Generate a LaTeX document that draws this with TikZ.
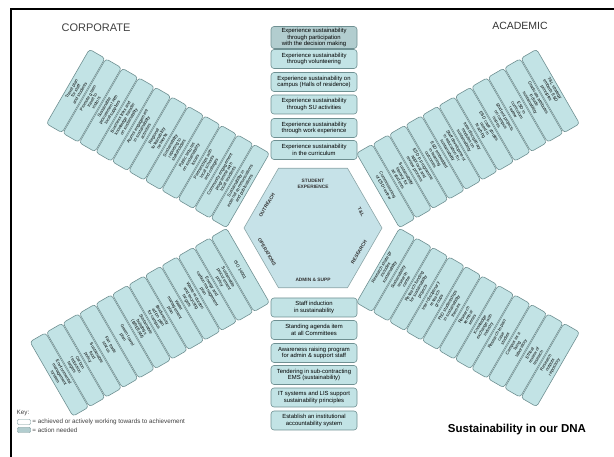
\documentclass[tikz,border=0pt]{standalone}
\usepackage{fontspec}
\setmainfont{Liberation Sans}
\usetikzlibrary{shapes.geometric, positioning}

\definecolor{boxfill}{HTML}{C2E3E5}
\definecolor{boxline}{HTML}{6F9092}
\definecolor{needfill}{HTML}{B2CDCF}
\definecolor{hexfill}{HTML}{C6E2E8}

\begin{document}
\begin{tikzpicture}[x=1pt, y=-1pt,
    item/.style={draw=boxline, fill=boxfill, rounded corners=3pt, line width=0.6pt,
        minimum width=86pt, minimum height=19pt, inner sep=1pt, align=center,
        font=\fontsize{5.9}{6.4}\selectfont},
    need/.style={item, fill=needfill},
    armbox/.style={item, minimum width=86pt, minimum height=18pt,
        font=\fontsize{4.3}{4.8}\selectfont},
    hexlabel/.style={font=\fontsize{4.8}{5.4}\selectfont\bfseries, align=center, text=black!80},
    keytext/.style={font=\fontsize{6.3}{7}\selectfont, text=black!75, inner sep=0.5pt}]

    \useasboundingbox (0,0) rectangle (614,457);

    % Frame
    \draw[line width=2pt] (11,9) rectangle (640,480);

    % Headings
    \node[font=\fontsize{11}{12}\selectfont, text=black!75] (corp) at (96,28) {CORPORATE};
    \node[font=\fontsize{10.5}{12}\selectfont, text=black!80] (acad) at (520,26) {ACADEMIC};
    \node[font=\fontsize{11.5}{13}\selectfont\bfseries] (title) at (517,430) {Sustainability in our DNA};

    % Centre hexagon
    \node[regular polygon, regular polygon sides=6, minimum size=138pt, inner sep=0pt,
        draw=boxline!80, line width=0.6pt, fill=hexfill] (hex) at (313,228) {};
    \node[hexlabel] (se) at (313,184) {STUDENT\\EXPERIENCE};
    \node[hexlabel] (as) at (313,280) {ADMIN \& SUPP};
    \node[hexlabel, rotate=60] (ou) at (267,205) {OUTREACH};
    \node[hexlabel, rotate=-60] (op) at (267,252) {OPERATIONS};
    \node[hexlabel, rotate=-60] (tl) at (361,212) {T\&L};
    \node[hexlabel, rotate=60] (re) at (359,252) {RESEARCH};

    % Student experience (top)
    \node[need, minimum height=22pt] (s1) at (314,37.5) {Experience sustainability\\through participation\\with the decision making};
    \node[item] (s2) at (314,59) {Experience sustainability\\through volunteering};
    \node[item] (s3) at (314,82) {Experience sustainability on\\campus (Halls of residence)};
    \node[item] (s4) at (314,104.5) {Experience sustainability\\through SU activities};
    \node[item] (s5) at (314,128) {Experience sustainability\\through work experience};
    \node[item] (s6) at (314,150) {Experience sustainability\\in the curriculum};

    % Admin & support (bottom)
    \node[item] (a1) at (314,307.5) {Staff induction\\in sustainability};
    \node[item] (a2) at (314,330) {Standing agenda item\\at all Committees};
    \node[item] (a3) at (314,353) {Awareness raising program\\for admin \& support staff};
    \node[item] (a4) at (314,375) {Tendering in sub-contracting\\EMS (sustainability)};
    \node[item] (a5) at (314,397.5) {IT systems and LIS support\\sustainability principles};
    \node[item] (a6) at (314,420.5) {Establish an institutional\\accountability system};

    % Outreach (upper left)
    \begin{scope}[shift={(313,228)}, rotate=60, transform shape]
        \node[armbox] (o1) at (0,-84) {Sustainability in\\external communications\\and publications};
        \node[armbox] (o2) at (0,-103) {Community engagement\\programme with\\local residents};
        \node[armbox] (o3) at (0,-122) {Partnerships with\\local schools\\and colleges};
        \node[armbox] (o4) at (0,-141) {Public lectures\\on sustainability\\issues};
        \node[armbox] (o5) at (0,-160) {Sustainability\\reporting to\\stakeholders};
        \node[armbox] (o6) at (0,-179) {Regional\\sustainability\\networks};
        \node[armbox] (o7) at (0,-198) {Alumni engagement\\in sustainability\\activities};
        \node[armbox] (o8) at (0,-217) {Business links and\\knowledge transfer\\on sustainability};
        \node[armbox] (o9) at (0,-236) {Sustainable\\procurement with\\local suppliers};
        \node[armbox] (o10) at (0,-255) {Promote green\\travel to\\visitors};
        \node[armbox] (o11) at (0,-274) {Travel plan\\for staff\\and students};
    \end{scope}

    % T&L (upper right)
    \begin{scope}[shift={(313,228)}, rotate=-60, transform shape]
        \node[armbox] (t1) at (0,-84) {Commissioning\\of ESD review};
        \node[armbox] (t2) at (0,-103) {Sustainability\\literacy for\\all students};
        \node[armbox] (t3) at (0,-122) {ESD in programme\\approval and\\review process};
        \node[armbox] (t4) at (0,-141) {ESD embedded\\in learning\\outcomes};
        \node[armbox] (t5) at (0,-160) {Staff development\\in education for\\sustainability};
        \node[armbox] (t6) at (0,-179) {Inter-disciplinary\\modules on\\sustainability};
        \node[armbox] (t7) at (0,-198) {ESD case studies\\used in\\teaching};
        \node[armbox] (t8) at (0,-217) {Student projects\\on campus\\issues};
        \node[armbox] (t9) at (0,-236) {ESD in\\curriculum\\review};
        \node[armbox] (t10) at (0,-255) {Graduate attributes\\include\\sustainability};
        \node[armbox] (t11) at (0,-274) {T\&L strategy\\embeds ESD\\principles};
    \end{scope}

    % Operations (lower left)
    \begin{scope}[shift={(313,228)}, rotate=-60, transform shape]
        \node[armbox] (p1) at (0,84) {ISO 14001};
        \node[armbox] (p2) at (0,103) {Sustainable\\procurement\\policy};
        \node[armbox] (p3) at (0,122) {Energy and\\carbon management\\plan};
        \node[armbox] (p4) at (0,141) {Waste reduction\\and recycling\\targets};
        \node[armbox] (p5) at (0,160) {Water\\management\\plan};
        \node[armbox] (p6) at (0,179) {Biodiversity\\action plan\\for campus};
        \node[armbox] (p7) at (0,198) {Sustainable\\buildings\\(BREEAM)};
        \node[armbox] (p8) at (0,217) {Green travel\\plan};
        \node[armbox] (p9) at (0,236) {Fair trade\\status};
        \node[armbox] (p10) at (0,255) {Sustainable\\food\\policy};
        \node[armbox] (p11) at (0,274) {Carbon\\reduction\\targets};
        \node[armbox] (p12) at (0,293) {Environmental\\management\\system};
    \end{scope}

    % Research (lower right)
    \begin{scope}[shift={(313,228)}, rotate=60, transform shape]
        \node[armbox] (r1) at (0,84) {Research strategy\\includes\\sustainability};
        \node[armbox] (r2) at (0,103) {Sustainability\\research\\centre};
        \node[armbox] (r3) at (0,122) {Research funding\\for sustainability\\projects};
        \node[armbox] (r4) at (0,141) {Inter-disciplinary\\research\\groups};
        \node[armbox] (r5) at (0,160) {PhD studentships\\in sustainability\\themes};
        \node[armbox] (r6) at (0,179) {Research\\seminar\\series};
        \node[armbox] (r7) at (0,198) {Knowledge\\exchange with\\industry};
        \node[armbox] (r8) at (0,217) {Research impact\\case\\studies};
        \node[armbox] (r9) at (0,236) {Campus as a\\living\\laboratory};
        \node[armbox] (r10) at (0,255) {Ethical\\review of\\research};
        \node[armbox] (r11) at (0,274) {Research\\outputs\\repository};
    \end{scope}

    % Key
    \node[keytext, anchor=west] (key) at (16,413) {Key:};
    \node[draw=boxline, fill=white, rounded corners=1pt, minimum width=13pt, minimum height=5pt, inner sep=0pt] (k1) at (24,422) {};
    \node[keytext, right=1pt of k1] (k1t) {= achieved or actively working towards to achievement};
    \node[draw=boxline, fill=needfill, rounded corners=1pt, minimum width=13pt, minimum height=5pt, inner sep=0pt] (k2) at (24,430) {};
    \node[keytext, right=1pt of k2] (k2t) {= action needed};
\end{tikzpicture}
\end{document}
